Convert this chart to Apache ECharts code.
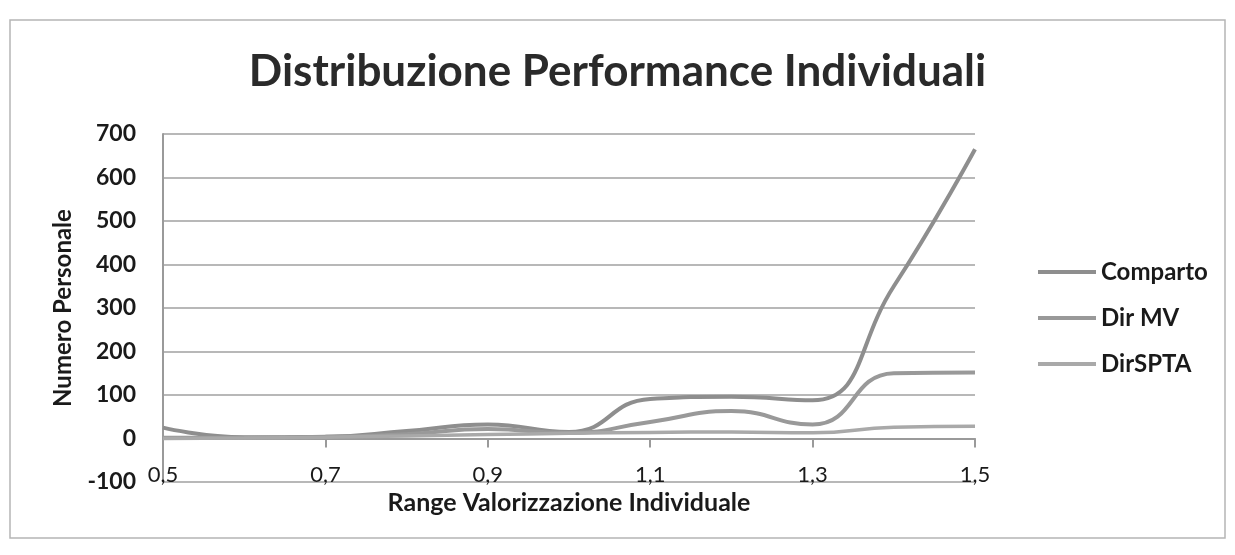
<!DOCTYPE html>
<html>
<head>
<meta charset="utf-8">
<title>Distribuzione Performance Individuali</title>
<script src="https://cdn.jsdelivr.net/npm/echarts@6/dist/echarts.min.js"></script>
<style>
  html, body { margin: 0; padding: 0; background: #fff; }
  #chart { width: 1235px; height: 555px; }
</style>
</head>
<body>
<div id="chart"></div>
<script>
// categorie asse x (range valorizzazione)
var categories = ['0,5', '0,6', '0,7', '0,8', '0,9', '1,0', '1,1', '1,2', '1,3', '1,4', '1,5'];

// numero personale per serie
var comparto = [25, 3, 4, 17, 32, 15, 91, 96, 88, 350, 665];
var dirMV = [2, 2, 4, 10, 22, 13, 38, 63, 32, 150, 152];
var dirSPTA = [0, 1, 3, 6, 9, 12, 14, 15, 13, 26, 28];

var yMin = -100, yMax = 700, yStep = 100;

var chart = echarts.init(document.getElementById('chart'));

var font = 'Lato, "Open Sans", sans-serif';

function lineSeries(name, data, color, width) {
  return {
    name: name,
    type: 'line',
    smooth: 0.5,
    symbol: 'none',
    data: data,
    lineStyle: { color: color, width: width },
    itemStyle: { color: color }
  };
}

var option = {
  backgroundColor: '#fff',
  animation: false,
  title: {
    text: 'Distribuzione Performance Individuali',
    left: 'center',
    top: 45,
    textStyle: {
      fontFamily: font,
      fontSize: 44,
      fontWeight: 'bold',
      color: '#2a2a2a'
    }
  },
  graphic: [{
    type: 'rect',
    shape: { x: 10, y: 20, width: 1215, height: 518 },
    style: { fill: 'none', stroke: '#b5b5b5', lineWidth: 1.5 },
    silent: true
  }],
  legend: {
    orient: 'vertical',
    left: 1033,
    top: 255,
    itemWidth: 58,
    itemHeight: 4,
    itemGap: 22,
    icon: 'rect',
    textStyle: {
      fontFamily: font,
      fontSize: 24,
      fontWeight: 'bold',
      color: '#1a1a1a'
    },
    data: ['Comparto', 'Dir MV', 'DirSPTA']
  },
  grid: {
    left: 163,
    right: 260,
    top: 134,
    bottom: 73
  },
  xAxis: {
    type: 'category',
    boundaryGap: false,
    data: categories,
    name: 'Range Valorizzazione Individuale',
    nameLocation: 'middle',
    nameGap: 6,
    nameTextStyle: {
      fontFamily: font,
      fontSize: 25,
      fontWeight: 'bold',
      color: '#1a1a1a'
    },
    axisLine: { onZero: true, lineStyle: { color: '#9a9a9a', width: 2 } },
    axisTick: { show: true, interval: 1, length: 9, lineStyle: { color: '#9a9a9a', width: 2 } },
    axisLabel: {
      interval: 1,
      margin: -18,
      fontFamily: font,
      fontSize: 22,
      color: '#1a1a1a'
    },
    splitLine: { show: false }
  },
  yAxis: {
    type: 'value',
    min: yMin,
    max: yMax,
    interval: yStep,
    name: 'Numero Personale',
    nameLocation: 'middle',
    nameGap: 88,
    nameTextStyle: {
      fontFamily: font,
      fontSize: 24,
      fontWeight: 'bold',
      color: '#1a1a1a'
    },
    axisLine: { show: true, lineStyle: { color: '#9a9a9a', width: 2 } },
    axisTick: { show: false },
    axisLabel: {
      margin: 27,
      fontFamily: font,
      fontSize: 23,
      fontWeight: 'bold',
      color: '#1a1a1a'
    },
    splitLine: { show: true, lineStyle: { color: '#a0a0a0', width: 1.5 } }
  },
  series: [
    lineSeries('Comparto', comparto, '#8e8e8e', 4),
    lineSeries('Dir MV', dirMV, '#999999', 4),
    lineSeries('DirSPTA', dirSPTA, '#a9a9a9', 3.5)
  ]
};

chart.setOption(option);
</script>
</body>
</html>
